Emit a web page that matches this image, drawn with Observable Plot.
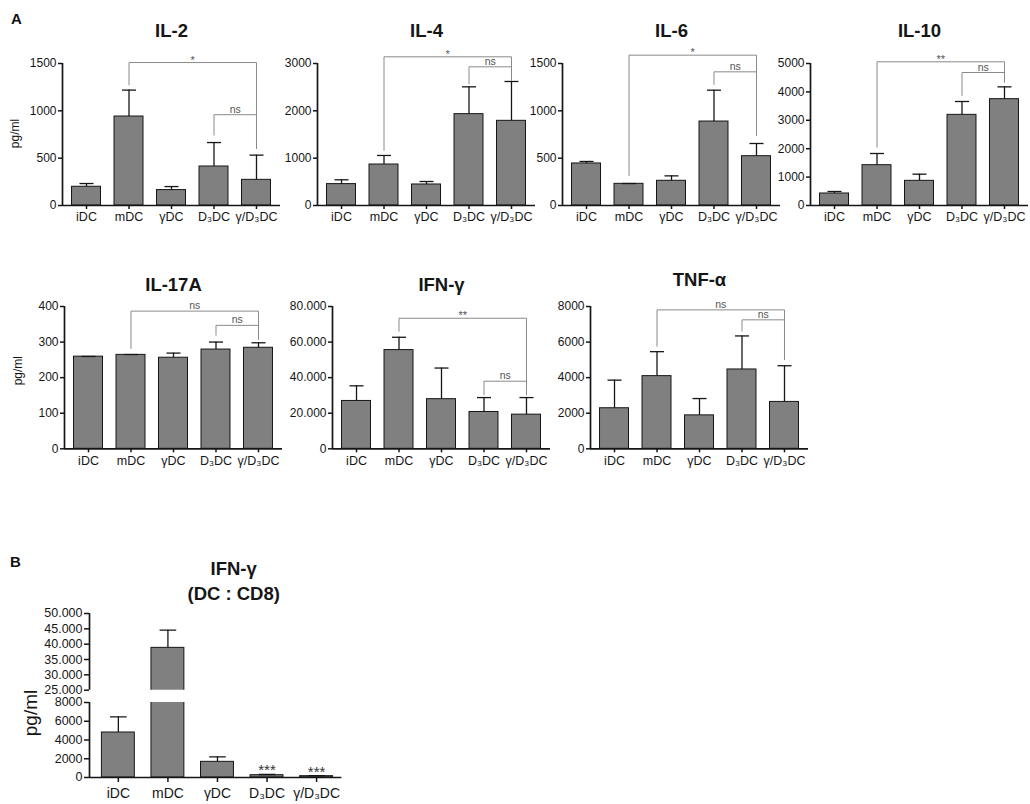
<!DOCTYPE html>
<html><head><meta charset="utf-8">
<script src="https://cdn.jsdelivr.net/npm/d3@7"></script>
<script src="https://cdn.jsdelivr.net/npm/@observablehq/plot@0.6"></script>
<style>
body{margin:0;background:#fff;}
#root{position:relative;width:1030px;height:804px;overflow:hidden;background:#fff;font-family:"Liberation Sans",Arial,Helvetica,sans-serif;}
.letter{position:absolute;font-weight:bold;font-size:15px;line-height:15px;color:#111;}
</style></head><body><div id="root"></div>
<script>
// ---------------- DATA ----------------
const categories = ["iDC", "mDC", "γDC", "D₃DC", "γ/D₃DC"];

const il2Mean = [198, 940, 163, 412, 271];
const il2Sd   = [34, 279, 37, 253, 261];
const il2Ticks = [0, 500, 1000, 1500];
const il2Brackets = [
  {from: "mDC", to: "γ/D₃DC", level: 1510, endFrom: 1270, endTo: 598, label: "*"},
  {from: "D₃DC", to: "γ/D₃DC", level: 959, endFrom: 739, endTo: 598, label: "ns"}
];

const il4Mean = [452, 866, 444, 1930, 1789];
const il4Sd   = [91, 191, 63, 577, 831];
const il4Ticks = [0, 1000, 2000, 3000];
const il4Brackets = [
  {from: "mDC", to: "γ/D₃DC", level: 3141, endFrom: 1155, endTo: 2634, label: "*"},
  {from: "D₃DC", to: "γ/D₃DC", level: 2930, endFrom: 2563, endTo: 2634, label: "ns"}
];

const il6Mean = [444, 229, 261, 887, 521];
const il6Sd   = [21, 3, 52, 331, 134];
const il6Ticks = [0, 500, 1000, 1500];
const il6Brackets = [
  {from: "mDC", to: "γ/D₃DC", level: 1588, endFrom: 313, endTo: 736, label: "*"},
  {from: "D₃DC", to: "γ/D₃DC", level: 1412, endFrom: 1275, endTo: 736, label: "ns"}
];

const il10Mean = [423, 1420, 869, 3192, 3744];
const il10Sd   = [70, 411, 234, 470, 434];
const il10Ticks = [0, 1000, 2000, 3000, 4000, 5000];
const il10Brackets = [
  {from: "mDC", to: "γ/D₃DC", level: 5059, endFrom: 2042, endTo: 4331, label: "**"},
  {from: "D₃DC", to: "γ/D₃DC", level: 4683, endFrom: 3862, endTo: 4331, label: "ns"}
];

const il17Mean = [259, 264, 256, 279, 284];
const il17Sd   = [0.5, 1, 13, 21, 14];
const il17Ticks = [0, 100, 200, 300, 400];
const il17Brackets = [
  {from: "mDC", to: "γ/D₃DC", level: 387, endFrom: 281, endTo: 306, label: "ns"},
  {from: "D₃DC", to: "γ/D₃DC", level: 347, endFrom: 318, endTo: 306, label: "ns"}
];

const ifnMean = [26900, 55500, 27900, 20700, 19200];
const ifnSd   = [8500, 7200, 17500, 8100, 9600];
const ifnTicks = [0, 20000, 40000, 60000, 80000];
const ifnBrackets = [
  {from: "mDC", to: "γ/D₃DC", level: 73400, endFrom: 65900, endTo: 30100, label: "**"},
  {from: "D₃DC", to: "γ/D₃DC", level: 38000, endFrom: 30100, endTo: 30100, label: "ns"}
];

const tnfMean = [2280, 4085, 1880, 4460, 2635];
const tnfSd   = [1580, 1375, 945, 1885, 2035];
const tnfTicks = [0, 2000, 4000, 6000, 8000];
const tnfBrackets = [
  {from: "mDC", to: "γ/D₃DC", level: 7810, endFrom: 5740, endTo: 4990, label: "ns"},
  {from: "D₃DC", to: "γ/D₃DC", level: 7250, endFrom: 6590, endTo: 4990, label: "ns"}
];

const cd8Mean = [4800, 38800, 1670, 245, 140];
const cd8Sd   = [1670, 5770, 530, 75, 50];
const cd8UpperTicks = [25000, 30000, 35000, 40000, 45000, 50000];
const cd8LowerTicks = [0, 2000, 4000, 6000, 8000];
const cd8Stars = ["", "", "", "***", "***"];

// ---------------- LAYOUT / STYLE ----------------
const FONT = '"Liberation Sans", Arial, Helvetica, sans-serif';
const INK = "#161616";
const BAR = "#808080";
const BRK = "#8a8a8a";
const root = document.getElementById("root");

function fmtNum(d) { return d >= 10000 ? d3.format(",")(d).replace(/,/g, ".") : String(d); }
function table(mean, sd) { return categories.map((c, i) => ({cat: c, i, mean: mean[i], top: mean[i] + sd[i]})); }
function place(node, left, top) {
  node.style.position = "absolute";
  node.style.left = left + "px";
  node.style.top = top + "px";
  root.appendChild(node);
}

function cytokinePanel(cfg) {
  const mL = 64, mR = 2, mT = 60, mB = 34, FW = 218;
  const FH = cfg.zeroY - cfg.topY;
  const xDom = [-0.565, 4.565], hw = 0.341, cw = 0.165;
  const data = table(cfg.mean, cfg.sd);
  const br = cfg.brackets.map(b => ({...b, i1: categories.indexOf(b.from), i2: categories.indexOf(b.to)}));
  const marks = [
    Plot.rectY(data, {x1: d => d.i - hw, x2: d => d.i + hw, y1: 0, y2: "mean", fill: BAR, stroke: INK, strokeWidth: 1}),
    Plot.ruleX(data, {x: "i", y1: "mean", y2: "top", stroke: INK, strokeWidth: 1.3}),
    Plot.link(data, {x1: d => d.i - cw, x2: d => d.i + cw, y1: "top", y2: "top", stroke: INK, strokeWidth: 1.3}),
    Plot.link(br, {x1: "i1", x2: "i2", y1: "level", y2: "level", stroke: BRK, strokeWidth: 1}),
    Plot.link(br, {x1: "i1", x2: "i1", y1: "level", y2: "endFrom", stroke: BRK, strokeWidth: 1}),
    Plot.link(br, {x1: "i2", x2: "i2", y1: "level", y2: "endTo", stroke: BRK, strokeWidth: 1}),
    Plot.text(br.filter(b => b.label !== "ns"), {x: b => (b.i1 + b.i2) / 2, y: "level", text: "label", lineAnchor: "bottom", dy: 1, fontSize: 11, fill: "#555"}),
    Plot.text(br.filter(b => b.label === "ns"), {x: b => (b.i1 + b.i2) / 2, y: "level", text: "label", lineAnchor: "bottom", dy: -2, fontSize: 10.5, fill: "#555"}),
    Plot.axisY({ticks: cfg.ticks, tickFormat: fmtNum, tickSize: 4, tickPadding: 2, strokeWidth: 1.5, fontSize: 12, label: null}),
    Plot.axisX({ticks: [0, 1, 2, 3, 4], tickFormat: i => categories[i], tickSize: 4, tickPadding: 3, strokeWidth: 1.5, fontSize: 12.5, label: null}),
    Plot.ruleY([0], {stroke: INK, strokeWidth: 1.7}),
    Plot.ruleX([xDom[0]], {stroke: INK, strokeWidth: 1.7}),
    Plot.text([cfg.title], {frameAnchor: "top", dy: cfg.titleY - cfg.topY, lineAnchor: "middle", fontWeight: "bold", fontSize: 18.5, fill: INK})
  ];
  if (cfg.ylabel) {
    marks.push(Plot.text([cfg.ylabel], {frameAnchor: "left", dx: cfg.ylabelDx, dy: cfg.ylabelDy, rotate: -90, textAnchor: "middle", lineAnchor: "middle", fontSize: 12, fill: INK}));
  }
  const svg = Plot.plot({
    width: mL + FW + mR, height: mT + FH + mB,
    marginLeft: mL, marginRight: mR, marginTop: mT, marginBottom: mB,
    x: {type: "linear", domain: xDom, axis: null},
    y: {domain: [0, cfg.ticks[cfg.ticks.length - 1]], axis: null},
    style: {fontFamily: FONT, fontSize: "12px", color: INK, background: "transparent", overflow: "visible"},
    marks
  });
  place(svg, cfg.ax - mL, cfg.topY - mT);
}

const row1 = {topY: 62.7, zeroY: 204.7, titleY: 30};
const row2 = {topY: 306, zeroY: 448.3};

cytokinePanel({...row1, ax: 62.3, title: "IL-2", mean: il2Mean, sd: il2Sd, ticks: il2Ticks, brackets: il2Brackets, ylabel: "pg/ml", ylabelDx: -47, ylabelDy: -1});
cytokinePanel({...row1, ax: 316.7, title: "IL-4", mean: il4Mean, sd: il4Sd, ticks: il4Ticks, brackets: il4Brackets});
cytokinePanel({...row1, ax: 561.7, title: "IL-6", mean: il6Mean, sd: il6Sd, ticks: il6Ticks, brackets: il6Brackets});
cytokinePanel({...row1, ax: 810, title: "IL-10", mean: il10Mean, sd: il10Sd, ticks: il10Ticks, brackets: il10Brackets});
cytokinePanel({...row2, ax: 64, titleY: 285, title: "IL-17A", mean: il17Mean, sd: il17Sd, ticks: il17Ticks, brackets: il17Brackets, ylabel: "pg/ml", ylabelDx: -46, ylabelDy: -7});
cytokinePanel({...row2, ax: 331.7, titleY: 285, title: "IFN-γ", mean: ifnMean, sd: ifnSd, ticks: ifnTicks, brackets: ifnBrackets});
cytokinePanel({...row2, ax: 590, titleY: 280, title: "TNF-α", mean: tnfMean, sd: tnfSd, ticks: tnfTicks, brackets: tnfBrackets});

// ---- Panel B (broken y axis: two stacked plots sharing x) ----
(function () {
  const ax = 89.3, FW = 252.4, mL = 70, mR = 2;
  const xDom = [-0.582, 4.51], hw = 0.332, cw = 0.168;
  const data = table(cd8Mean, cd8Sd);
  const upperTop = 613.3, upperBottom = 690, lowerTop = 702.3, zeroY = 777.3;

  const barMarks = [
    Plot.rectY(data, {x1: d => d.i - hw, x2: d => d.i + hw, y1: 0, y2: "mean", fill: BAR, stroke: INK, strokeWidth: 1, clip: true}),
    Plot.ruleX(data, {x: "i", y1: "mean", y2: "top", stroke: INK, strokeWidth: 1.3, clip: true}),
    Plot.link(data, {x1: d => d.i - cw, x2: d => d.i + cw, y1: "top", y2: "top", stroke: INK, strokeWidth: 1.3, clip: true})
  ];

  // upper segment
  const uT = 66, uB = 6, uH = upperBottom - upperTop;
  const upper = Plot.plot({
    width: mL + FW + mR, height: uT + uH + uB,
    marginLeft: mL, marginRight: mR, marginTop: uT, marginBottom: uB,
    x: {type: "linear", domain: xDom, axis: null},
    y: {domain: [cd8UpperTicks[0], cd8UpperTicks[cd8UpperTicks.length - 1]], axis: null},
    style: {fontFamily: FONT, fontSize: "12px", color: INK, background: "transparent", overflow: "visible"},
    marks: [
      ...barMarks,
      Plot.axisY({ticks: cd8UpperTicks, tickFormat: fmtNum, tickSize: 5, tickPadding: 2, strokeWidth: 1.5, fontSize: 12.5, label: null}),
      Plot.ruleX([xDom[0]], {stroke: INK, strokeWidth: 1.7}),
      Plot.text(["IFN-γ\n(DC : CD8)"], {frameAnchor: "top", dx: 18, dy: -34, lineAnchor: "middle", lineHeight: 1.35, fontWeight: "bold", fontSize: 18.5, fill: INK})
    ]
  });
  place(upper, ax - mL, upperTop - uT);

  // lower segment
  const lT = 10, lB = 40, lH = zeroY - lowerTop;
  const starData = data.map((d, i) => ({...d, star: cd8Stars[i]})).filter(d => d.star);
  const lower = Plot.plot({
    width: mL + FW + mR, height: lT + lH + lB,
    marginLeft: mL, marginRight: mR, marginTop: lT, marginBottom: lB,
    x: {type: "linear", domain: xDom, axis: null},
    y: {domain: [cd8LowerTicks[0], cd8LowerTicks[cd8LowerTicks.length - 1]], axis: null},
    style: {fontFamily: FONT, fontSize: "12px", color: INK, background: "transparent", overflow: "visible"},
    marks: [
      ...barMarks,
      Plot.text(starData, {x: "i", y: "top", text: "star", lineAnchor: "bottom", dy: 1, fontSize: 15, fill: "#333"}),
      Plot.axisY({ticks: cd8LowerTicks, tickFormat: fmtNum, tickSize: 5, tickPadding: 2, strokeWidth: 1.5, fontSize: 12.5, label: null}),
      Plot.axisX({ticks: [0, 1, 2, 3, 4], tickFormat: i => categories[i], tickSize: 5, tickPadding: 6, strokeWidth: 1.5, fontSize: 14, label: null}),
      Plot.ruleY([0], {stroke: INK, strokeWidth: 1.7}),
      Plot.ruleX([xDom[0]], {stroke: INK, strokeWidth: 1.7}),
      Plot.text(["pg/ml"], {frameAnchor: "left", dx: -59, dy: -27, rotate: -90, textAnchor: "middle", lineAnchor: "middle", fontSize: 19, fill: INK})
    ]
  });
  place(lower, ax - mL, lowerTop - lT);
})();

// panel letters
function letter(t, left, top) { const d = document.createElement("div"); d.className = "letter"; d.textContent = t; d.style.left = left + "px"; d.style.top = top + "px"; root.appendChild(d); }
letter("A", 11, 11);
letter("B", 10, 554);
</script>
</body></html>
